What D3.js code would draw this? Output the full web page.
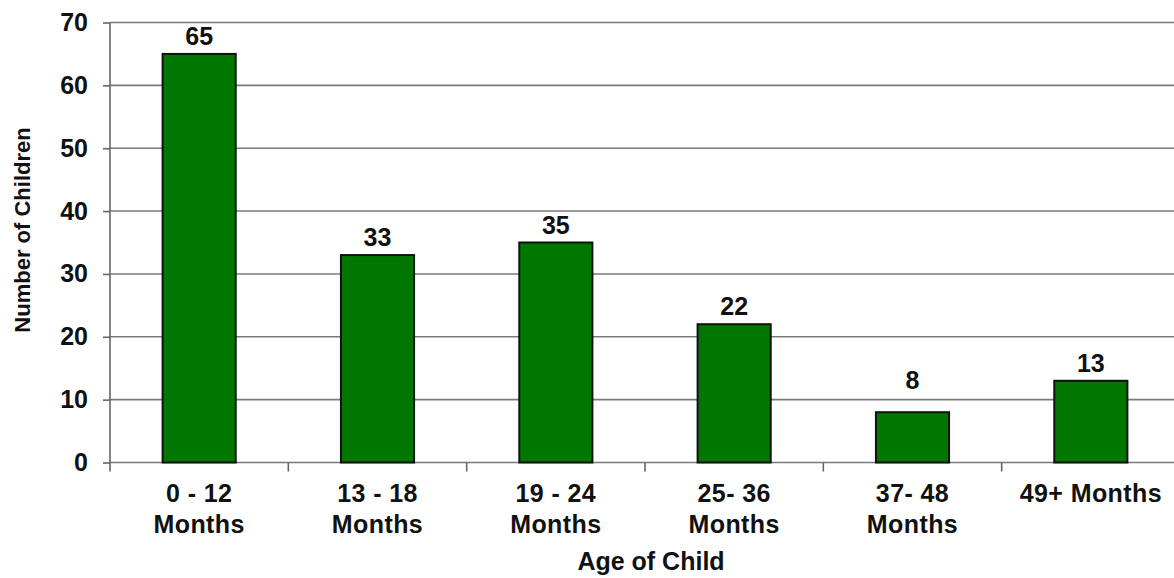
<!DOCTYPE html>
<html>
<head>
<meta charset="utf-8">
<script src="https://cdn.jsdelivr.net/npm/d3@7"></script>
<style>
  body { margin: 0; background: #fff; }
  text { font-family: "Liberation Sans", Arial, sans-serif; font-weight: bold; fill: #111; }
</style>
</head>
<body>
<div id="app"></div>
<script>
const categories = ['0-12', '13-18', '19-24', '25-36', '37-48', '49+'];
const counts = [65, 33, 35, 22, 8, 13];
const tickLabels = [
  ['0 - 12', 'Months'],
  ['13 - 18', 'Months'],
  ['19 - 24', 'Months'],
  ['25- 36', 'Months'],
  ['37- 48', 'Months'],
  ['49+ Months']
];
const yTicks = [0, 10, 20, 30, 40, 50, 60, 70];

const width = 1174;
const height = 578;
const plotLeft = 110, plotRight = 1180, plotTop = 22.5, plotBottom = 462.5;
const fontSize = 25;

const svg = d3.select('#app')
  .append('svg')
  .attr('width', width)
  .attr('height', height);

const x = d3.scaleBand()
  .domain(categories)
  .range([plotLeft, plotRight])
  .paddingInner(0.59)
  .paddingOuter(0.295);

// band edges for the category tick marks
const xEdge = d3.scaleBand()
  .domain(categories)
  .range([plotLeft, plotRight]);

const y = d3.scaleLinear()
  .domain([0, 70])
  .range([plotBottom, plotTop]);

/* grid lines */
svg.append('g')
  .selectAll('line')
  .data(yTicks)
  .join('line')
  .attr('x1', plotLeft)
  .attr('x2', plotRight)
  .attr('y1', d => y(d))
  .attr('y2', d => y(d))
  .attr('stroke', '#7a7a7a')
  .attr('stroke-width', 1.6);

/* y axis */
const yAxis = svg.append('g')
  .attr('transform', `translate(${plotLeft},0)`)
  .call(d3.axisLeft(y).tickValues(yTicks).tickSize(7).tickPadding(15));
yAxis.select('.domain').attr('stroke', '#666').attr('stroke-width', 1.6)
  .attr('d', `M0,${plotTop}V${plotBottom + 9}`);
yAxis.selectAll('.tick line').attr('stroke', '#666').attr('stroke-width', 1.6);
yAxis.selectAll('.tick text')
  .attr('font-size', fontSize)
  .attr('font-family', '"Liberation Sans", Arial, sans-serif')
  .attr('font-weight', 'bold')
  .attr('fill', '#111');

/* category tick marks under the x axis */
svg.append('g')
  .selectAll('line')
  .data(categories.slice(1))
  .join('line')
  .attr('x1', d => xEdge(d))
  .attr('x2', d => xEdge(d))
  .attr('y1', plotBottom)
  .attr('y2', plotBottom + 9)
  .attr('stroke', '#666')
  .attr('stroke-width', 1.6);

/* bars */
svg.append('g')
  .selectAll('rect')
  .data(counts)
  .join('rect')
  .attr('x', (d, i) => x(categories[i]))
  .attr('y', d => y(d))
  .attr('width', x.bandwidth())
  .attr('height', d => y(0) - y(d))
  .attr('fill', '#007800')
  .attr('stroke', '#111')
  .attr('stroke-width', 2);

/* value labels - lifted above a grid line if they would sit on it */
function labelY(d) {
  let base = y(d) - 9;
  const nextGrid = Math.ceil(d / 10) * 10;
  if (y(nextGrid) > base - fontSize * 0.75 && nextGrid > d) base = y(nextGrid) - 11;
  return base;
}
svg.append('g')
  .selectAll('text')
  .data(counts)
  .join('text')
  .attr('x', (d, i) => x(categories[i]) + x.bandwidth() / 2)
  .attr('y', d => labelY(d))
  .attr('text-anchor', 'middle')
  .attr('font-size', fontSize)
  .text(d => d);

/* category labels */
const catLabels = svg.append('g')
  .selectAll('text')
  .data(tickLabels)
  .join('text')
  .attr('text-anchor', 'middle')
  .attr('font-size', fontSize)
  .attr('letter-spacing', 0.4)
  .attr('transform', (d, i) => `translate(${x(categories[i]) + x.bandwidth() / 2},502)`);
catLabels.selectAll('tspan')
  .data(d => d)
  .join('tspan')
  .attr('x', 0)
  .attr('y', (d, i) => i * 31)
  .text(d => d);

/* axis titles */
svg.append('text')
  .attr('x', 651)
  .attr('y', 570)
  .attr('text-anchor', 'middle')
  .attr('font-size', fontSize)
  .text('Age of Child');

svg.append('text')
  .attr('transform', 'translate(30,230) rotate(-90)')
  .attr('text-anchor', 'middle')
  .attr('font-size', 22)
  .text('Number of Children');
</script>
</body>
</html>
